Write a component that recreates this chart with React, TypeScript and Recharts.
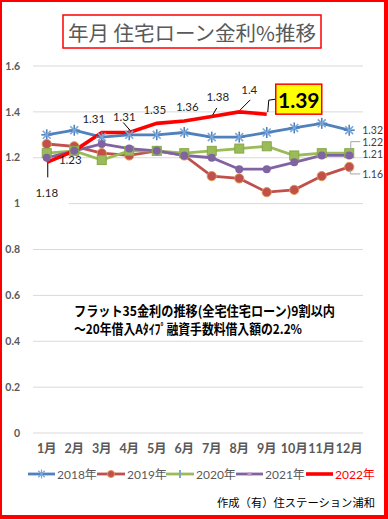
import React from 'react';
import { LineChart, Line, XAxis, YAxis, CartesianGrid, LabelList } from 'recharts';

const months = ['1月', '2月', '3月', '4月', '5月', '6月', '7月', '8月', '9月', '10月', '11月', '12月'];
const y2018 = [1.30, 1.32, 1.29, 1.30, 1.30, 1.31, 1.29, 1.29, 1.31, 1.33, 1.35, 1.32];
const y2019 = [1.26, 1.25, 1.22, 1.21, 1.23, 1.21, 1.12, 1.11, 1.05, 1.06, 1.12, 1.16];
const y2020 = [1.22, 1.23, 1.19, 1.23, 1.23, 1.22, 1.23, 1.24, 1.25, 1.21, 1.22, 1.22];
const y2021 = [1.20, 1.23, 1.26, 1.24, 1.23, 1.21, 1.20, 1.15, 1.15, 1.18, 1.21, 1.21];
const y2022 = [1.18, 1.23, 1.31, 1.31, 1.35, 1.36, 1.38, 1.40, 1.39];
const yTicks = [0, 0.2, 0.4, 0.6, 0.8, 1.0, 1.2, 1.4, 1.6];
const seriesNames = ['2018年', '2019年', '2020年', '2021年', '2022年'];
const titleText = '年月 住宅ローン金利%推移';
const noteLine1 = 'フラット35金利の推移(全宅住宅ローン)9割以内';
const noteLine2 = '～20年借入Aﾀｲﾌﾟ融資手数料借入額の2.2%';
const footerText = '作成（有）住ステーション浦和';

const NUM_FONT = "Lato, 'Noto Sans CJK JP', sans-serif";
const CJK_FONT = "'Noto Sans CJK JP', sans-serif";

const C2018 = '#4f81bd';
const C2019 = '#c0504d';
const C2020 = '#9bbb59';
const C2021 = '#8064a2';
const C2022 = '#ff0000';

const data = months.map((m, i) => ({
  month: m,
  s2018: y2018[i],
  s2019: y2019[i],
  s2020: y2020[i],
  s2021: y2021[i],
  s2022: i < y2022.length ? y2022[i] : null,
}));

const StarDot = (p: any) => {
  const { cx, cy, index } = p;
  if (cx == null || cy == null) return <g key={`st${index}`} />;
  const r = 5.5;
  const d = r * 0.72;
  return (
    <g key={`st${index}`} stroke={C2018} strokeWidth={1.6}>
      <line x1={cx - r} y1={cy} x2={cx + r} y2={cy} />
      <line x1={cx} y1={cy - r} x2={cx} y2={cy + r} />
      <line x1={cx - d} y1={cy - d} x2={cx + d} y2={cy + d} stroke="#7aa6d8" />
      <line x1={cx - d} y1={cy + d} x2={cx + d} y2={cy - d} stroke="#7aa6d8" />
    </g>
  );
};
const CircleDot = (p: any) => {
  const { cx, cy, index } = p;
  if (cx == null || cy == null) return <g key={`ci${index}`} />;
  return <circle key={`ci${index}`} cx={cx} cy={cy} r={4.6} fill={C2019} stroke="#e0944f" strokeWidth={1} />;
};
const SquareDot = (p: any) => {
  const { cx, cy, index } = p;
  if (cx == null || cy == null) return <g key={`sq${index}`} />;
  return <rect key={`sq${index}`} x={cx - 4.5} y={cy - 4.5} width={9} height={9} fill={C2020} stroke="#86a84a" strokeWidth={1} />;
};
const PurpleDot = (p: any) => {
  const { cx, cy, index } = p;
  if (cx == null || cy == null) return <g key={`pu${index}`} />;
  return <circle key={`pu${index}`} cx={cx} cy={cy} r={4} fill={C2021} />;
};

type Lead = number[][];
const redLabelStyle: { dx?: number; dy?: number; lead?: Lead; bg?: boolean; box?: boolean }[] = [
  { dx: 0, dy: 30, lead: [[1, 1], [1, 15]], bg: true },
  { dx: -4, dy: 9 },
  { dx: -8, dy: -14.5 },
  { dx: -5, dy: -16.5, lead: [[-6, -10], [1, -2]] },
  { dx: -2, dy: -14 },
  { dx: 3, dy: -15 },
  { dx: 6, dy: -19.5, lead: [[5, -8.5], [1, -1.5]] },
  { dx: 10, dy: -22, lead: [[11, -12], [1, -2]] },
  { box: true, lead: [[1, -2], [2, -14], [9, -15]] },
];

const leadPath = (x: number, y: number, lead: Lead) =>
  lead.map((pt, k) => `${k === 0 ? 'M' : 'L'}${x + pt[0]},${y + pt[1]}`).join(' ');

const renderRedLabel = (p: any) => {
  const { x, y, value } = p;
  if (value == null || x == null || y == null) return null;
  const idx = p.index != null ? p.index : Math.round((x - 46.75) / 27.5);
  const st = redLabelStyle[idx];
  if (!st) return null;
  const fmt = String(Number(value));
  if (st.box) {
    return (
      <g key={`rl${idx}`}>
        {st.lead && <path d={leadPath(x, y, st.lead)} stroke="#000" strokeWidth={1} fill="none" />}
        <rect x={x + 9} y={y - 30} width={46} height={30} fill="#ffff00" stroke="#ff0000" strokeWidth={1.5} />
        <text x={x + 32} y={y - 14.5} textAnchor="middle" dominantBaseline="central" fontFamily={NUM_FONT} fontWeight={700} fontSize={21} fill="#000">{fmt}</text>
      </g>
    );
  }
  const tx = x + (st.dx || 0);
  const ty = y + (st.dy || 0);
  return (
    <g key={`rl${idx}`}>
      {st.bg && <rect x={x - 14} y={y + 17} width={36} height={27} fill="#fff" />}
      {st.lead && <path d={leadPath(x, y, st.lead)} stroke="#000" strokeWidth={1} fill="none" />}
      <text x={tx} y={ty} textAnchor="middle" dominantBaseline="central" fontFamily={NUM_FONT} fontSize={11.5} fill="#262626">{fmt}</text>
    </g>
  );
};

const endLabelStyle: Record<string, { dy: number; lead?: Lead }> = {
  s2018: { dy: 0 },
  s2019: { dy: 7, lead: [[1, 3], [1, 7], [11, 7]] },
  s2020: { dy: -11.5, lead: [[1.5, -3], [1.5, -11.5], [11, -11.5]] },
  s2021: { dy: -1 },
};

const makeEndLabel = (key: string) => (p: any) => {
  const { x, y, value } = p;
  if (value == null || x == null || y == null) return null;
  const idx = p.index != null ? p.index : Math.round((x - 46.75) / 27.5);
  if (idx !== months.length - 1) return null;
  const st = endLabelStyle[key];
  return (
    <g key={`el${key}`}>
      {st.lead && <path d={leadPath(x, y, st.lead)} stroke="#a6a6a6" strokeWidth={1} fill="none" />}
      <text x={x + 13} y={y + st.dy} textAnchor="start" dominantBaseline="central" fontFamily={NUM_FONT} fontSize={10.5} fill="#404040">{Number(value).toFixed(2)}</text>
    </g>
  );
};

const legendItems = [
  { name: seriesNames[0], color: C2018, x1: 28, x2: 55, tx: 57, marker: 'star', textColor: '#595959' },
  { name: seriesNames[1], color: C2019, x1: 97, x2: 125, tx: 127, marker: 'circle', textColor: '#595959' },
  { name: seriesNames[2], color: C2020, x1: 166, x2: 194, tx: 196, marker: 'square', textColor: '#595959' },
  { name: seriesNames[3], color: C2021, x1: 236, x2: 263, tx: 265, marker: 'dot', textColor: '#595959' },
  { name: seriesNames[4], color: C2022, x1: 306, x2: 333, tx: 335, marker: 'none', textColor: '#ff0000' },
];

const LegendMarker = ({ kind, cx, cy }: { kind: string; cx: number; cy: number }) => {
  if (kind === 'star') {
    const r = 4.5;
    const d = r * 0.72;
    return (
      <g stroke="#7aa6d8" strokeWidth={1.2}>
        <line x1={cx - d} y1={cy - d} x2={cx + d} y2={cy + d} />
        <line x1={cx - d} y1={cy + d} x2={cx + d} y2={cy - d} />
        <line x1={cx} y1={cy - r} x2={cx} y2={cy + r} />
      </g>
    );
  }
  if (kind === 'circle') return <circle cx={cx} cy={cy} r={3.5} fill={C2019} stroke="#e0944f" strokeWidth={1} />;
  if (kind === 'square') return <rect x={cx - 1} y={cy - 4} width={2} height={8} fill="#7fa7c9" />;
  if (kind === 'dot') return <rect x={cx - 2} y={cy - 1.5} width={4} height={3} fill="#c792b5" />;
  return null;
};

export default function App() {
  return (
    <div style={{ position: 'absolute', left: 0, top: 0, width: 388, height: 519, background: '#fff', overflow: 'hidden' }}>
      <LineChart width={388} height={519} data={data} margin={{ top: 66, right: 25, bottom: 56, left: 0 }}>
        <CartesianGrid vertical={false} stroke="#d9d9d9" strokeWidth={1} />
        <XAxis
          dataKey="month"
          interval={0}
          axisLine={false}
          tickLine={false}
          tickSize={0}
          tickMargin={11}
          height={30}
          padding={{ left: 13.75, right: 13.75 }}
          tick={{ fontSize: 12.5, fontWeight: 700, fill: '#595959', fontFamily: NUM_FONT }}
        />
        <YAxis
          domain={[0, 1.6]}
          ticks={yTicks}
          width={33}
          axisLine={false}
          tickLine={false}
          tickSize={0}
          tickMargin={13}
          tickFormatter={(v: number) => String(Number(v.toFixed(1)))}
          tick={{ fontSize: 10.5, fontWeight: 700, fill: '#595959', fontFamily: NUM_FONT }}
        />
        <Line dataKey="s2018" name={seriesNames[0]} stroke={C2018} strokeWidth={2.8} dot={StarDot} activeDot={false} isAnimationActive={false}>
          <LabelList dataKey="s2018" content={makeEndLabel('s2018')} />
        </Line>
        <Line dataKey="s2019" name={seriesNames[1]} stroke={C2019} strokeWidth={2.8} dot={CircleDot} activeDot={false} isAnimationActive={false}>
          <LabelList dataKey="s2019" content={makeEndLabel('s2019')} />
        </Line>
        <Line dataKey="s2020" name={seriesNames[2]} stroke={C2020} strokeWidth={2.8} dot={SquareDot} activeDot={false} isAnimationActive={false}>
          <LabelList dataKey="s2020" content={makeEndLabel('s2020')} />
        </Line>
        <Line dataKey="s2021" name={seriesNames[3]} stroke={C2021} strokeWidth={2.8} dot={PurpleDot} activeDot={false} isAnimationActive={false}>
          <LabelList dataKey="s2021" content={makeEndLabel('s2021')} />
        </Line>
        <Line dataKey="s2022" name={seriesNames[4]} stroke={C2022} strokeWidth={3.6} dot={false} activeDot={false} isAnimationActive={false}>
          <LabelList dataKey="s2022" content={renderRedLabel} />
        </Line>
      </LineChart>
      <svg width={388} height={519} style={{ position: 'absolute', left: 0, top: 0, pointerEvents: 'none' }}>
        <rect x={63} y={15} width={258} height={33} fill="none" stroke="#ff0000" strokeWidth={1.5} />
        <text x={192} y={32} textAnchor="middle" dominantBaseline="central" fontFamily={CJK_FONT} fontSize={20.5} fill="#595959">{titleText}</text>
        <text x={74} y={309.5} dominantBaseline="central" fontFamily={CJK_FONT} fontWeight={700} fontSize={13.5} fill="#000" textLength={261} lengthAdjust="spacingAndGlyphs">{noteLine1}</text>
        <text x={74} y={327.5} dominantBaseline="central" fontFamily={CJK_FONT} fontWeight={700} fontSize={13.5} fill="#000" textLength={228} lengthAdjust="spacingAndGlyphs">{noteLine2}</text>
        {legendItems.map((it) => (
          <g key={it.name}>
            <line x1={it.x1} y1={474} x2={it.x2} y2={474} stroke={it.color} strokeWidth={it.marker === 'none' ? 3.6 : 2.8} />
            <LegendMarker kind={it.marker} cx={(it.x1 + it.x2) / 2} cy={474} />
            <text x={it.tx} y={474} dominantBaseline="central" fontFamily={NUM_FONT} fontSize={12} fill={it.textColor}>{it.name}</text>
          </g>
        ))}
        <text x={375} y={502} textAnchor="end" dominantBaseline="central" fontFamily={CJK_FONT} fontSize={11.5} fill="#000" textLength={158} lengthAdjust="spacingAndGlyphs">{footerText}</text>
      </svg>
      <div style={{ position: 'absolute', left: 0, top: 0, width: 388, height: 519, boxSizing: 'border-box', borderStyle: 'solid', borderColor: '#ff0000', borderWidth: '2px 4px 4px 2px', pointerEvents: 'none' }} />
    </div>
  );
}
